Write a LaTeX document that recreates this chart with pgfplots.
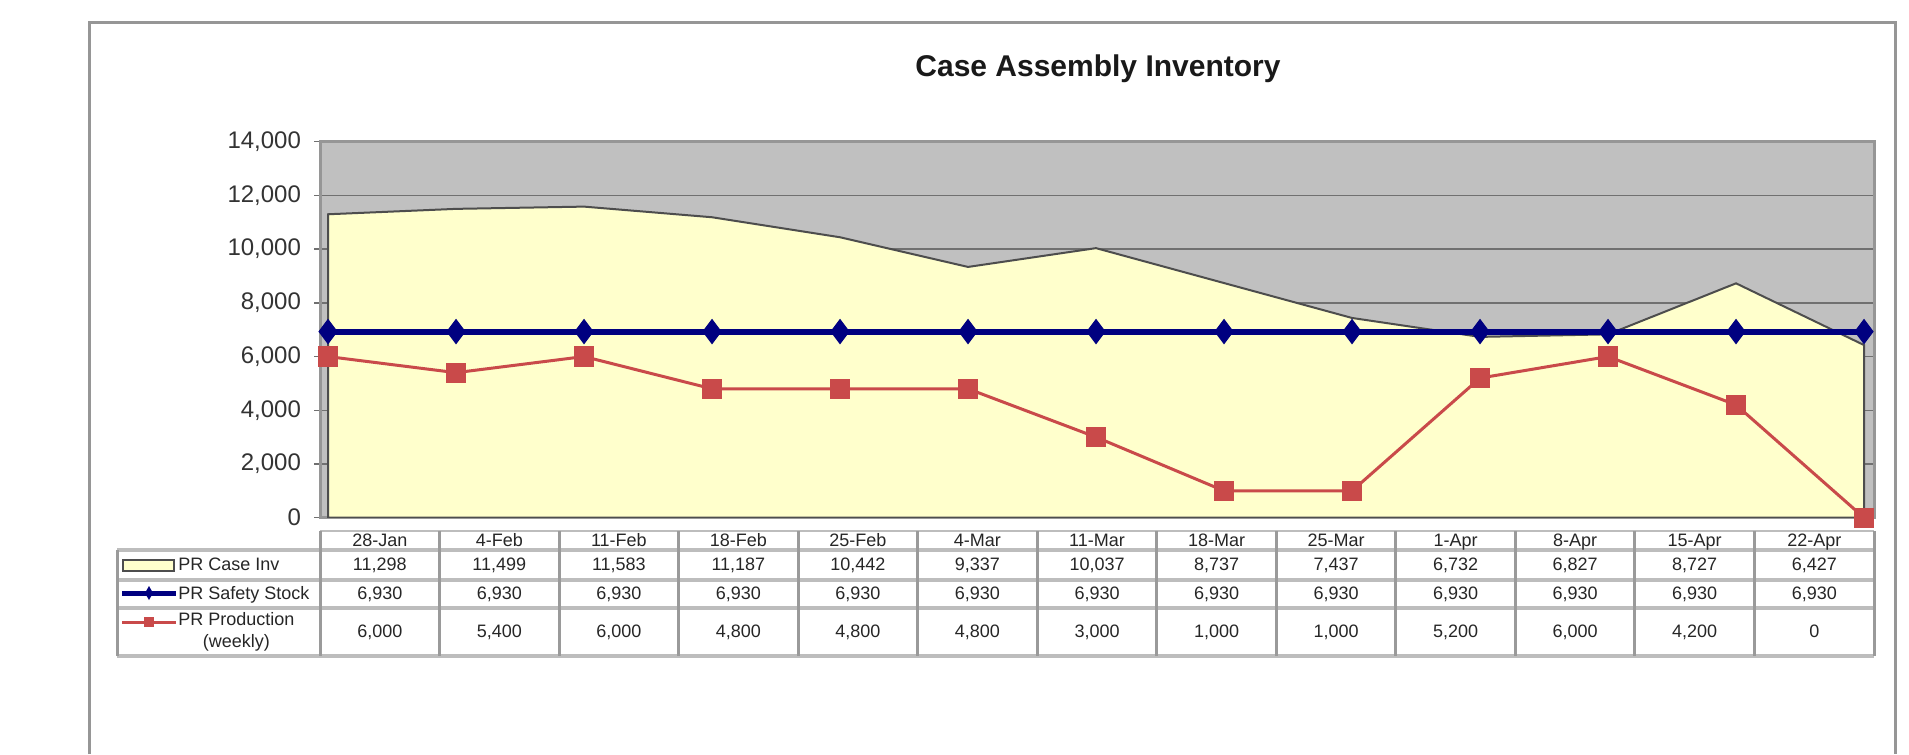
\documentclass[border=0pt]{standalone}
\usepackage{fontspec}
\setmainfont{Liberation Sans}
\usepackage{pgfplots}
\pgfplotsset{compat=1.18}
\usepackage{pgfplotstable}

\definecolor{plotbg}{HTML}{C0C0C0}
\definecolor{areafill}{HTML}{FFFFCC}
\definecolor{areaedge}{HTML}{4D4D4D}
\definecolor{navy}{HTML}{000080}
\definecolor{prodred}{HTML}{C94A4A}
\definecolor{gridc}{HTML}{707070}
\definecolor{framec}{HTML}{969696}
\definecolor{tabh}{HTML}{BDBDBD}
\definecolor{tabv}{HTML}{9A9A9A}

\pgfplotstableread{
x inv safety prod
0 11298 6930 6000
1 11499 6930 5400
2 11583 6930 6000
3 11187 6930 4800
4 10442 6930 4800
5 9337 6930 4800
6 10037 6930 3000
7 8737 6930 1000
8 7437 6930 1000
9 6732 6930 5200
10 6827 6930 6000
11 8727 6930 4200
12 6427 6930 0
}\datatable

\newcommand\tabfont{\fontsize{9}{11}\selectfont}
\tikzset{tabcell/.style={font=\tabfont, text=black!85, text height=1.45ex, text depth=0.35ex, inner sep=0pt}}

\begin{document}
\begin{tikzpicture}
\begin{scope}[x=0.5pt,y=-0.5pt]
\useasboundingbox (0,0) rectangle (1909,754);
\draw[framec, line width=1.5pt] (89,754) -- (89,22.7) -- (1895,22.7) -- (1895,754);
\node[font=\fontsize{15}{18}\selectfont\bfseries, text=black!90] at (1098,69) {Case Assembly Inventory};
\end{scope}

\begin{axis}[
  at={(160pt,-258.85pt)}, anchor=south west,
  scale only axis, width=777pt, height=188pt,
  xmin=-0.0625, xmax=12.078, ymin=0, ymax=14000,
  xtick=\empty, ytick={0,2000,...,14000},
  scaled y ticks=false,
  ymajorgrids, grid style={gridc, line width=0.75pt},
  axis background/.style={fill=plotbg},
  axis line style={draw=framec, line width=1.5pt},
  tick style={gridc, line width=0.75pt},
  major tick length=3pt, tick align=outside, ytick pos=left,
  yticklabel style={font=\fontsize{12}{14}\selectfont, text=black!80, xshift=-3pt,
    /pgf/number format/fixed, /pgf/number format/1000 sep={,}},
  /pgf/number format/assume math mode=true,
]
\addplot[fill=areafill, draw=areaedge, line width=1pt] table[x=x,y=inv]{\datatable} \closedcycle;
\addplot[navy, line width=3pt, mark=diamond*, mark size=6pt,
  mark options={fill=navy, draw=navy, line width=0.5pt}] table[x=x,y=safety]{\datatable};
\addplot[prodred, line width=1.5pt, mark=square*, mark size=4.8pt,
  mark options={fill=prodred, draw=prodred, line width=0.5pt}] table[x=x,y=prod]{\datatable};
\end{axis}

\begin{scope}[x=0.5pt,y=-0.5pt]
% table grid
\draw[tabh, line width=1pt] (320,531) -- (1874,531);
\foreach \yy in {550,580,608,656} \draw[tabh, line width=1.8pt] (117,\yy) -- (1874,\yy);
\draw[tabv, line width=1.5pt] (117,550) -- (117,656);
\foreach \k in {0,...,13} \draw[tabv, line width=1.5pt] ({320+119.54*\k},531) -- ({320+119.54*\k},656);
% headers
\foreach \lab [count=\i from 0] in {28-Jan,4-Feb,11-Feb,18-Feb,25-Feb,4-Mar,11-Mar,18-Mar,25-Mar,1-Apr,8-Apr,15-Apr,22-Apr}
  \node[tabcell] at ({320+119.54*(\i+0.5)},541) {\lab};
\foreach \v [count=\i from 0] in {{11,298},{11,499},{11,583},{11,187},{10,442},{9,337},{10,037},{8,737},{7,437},{6,732},{6,827},{8,727},{6,427}}
  \node[tabcell] at ({320+119.54*(\i+0.5)},565) {\v};
\foreach \v [count=\i from 0] in {{6,930},{6,930},{6,930},{6,930},{6,930},{6,930},{6,930},{6,930},{6,930},{6,930},{6,930},{6,930},{6,930}}
  \node[tabcell] at ({320+119.54*(\i+0.5)},594) {\v};
\foreach \v [count=\i from 0] in {{6,000},{5,400},{6,000},{4,800},{4,800},{4,800},{3,000},{1,000},{1,000},{5,200},{6,000},{4,200},0}
  \node[tabcell] at ({320+119.54*(\i+0.5)},632) {\v};
% legend keys
\draw[areaedge, fill=areafill, line width=1pt] (123,560) rectangle (174,571);
\draw[navy, line width=2.5pt] (122,593) -- (176,593);
\fill[navy] (149,586) -- (153,593) -- (149,600) -- (145,593) -- cycle;
\draw[prodred, line width=1.5pt] (122,622) -- (176,622);
\fill[prodred] (144,617) rectangle (154,627);
\node[tabcell, anchor=west] at (178,565) {PR Case Inv};
\node[tabcell, anchor=west] at (178,594) {PR Safety Stock};
\node[font=\tabfont, text=black!85, anchor=west, inner sep=0pt, align=center] at (178,632) {PR Production\\(weekly)};
\end{scope}
\end{tikzpicture}
\end{document}
